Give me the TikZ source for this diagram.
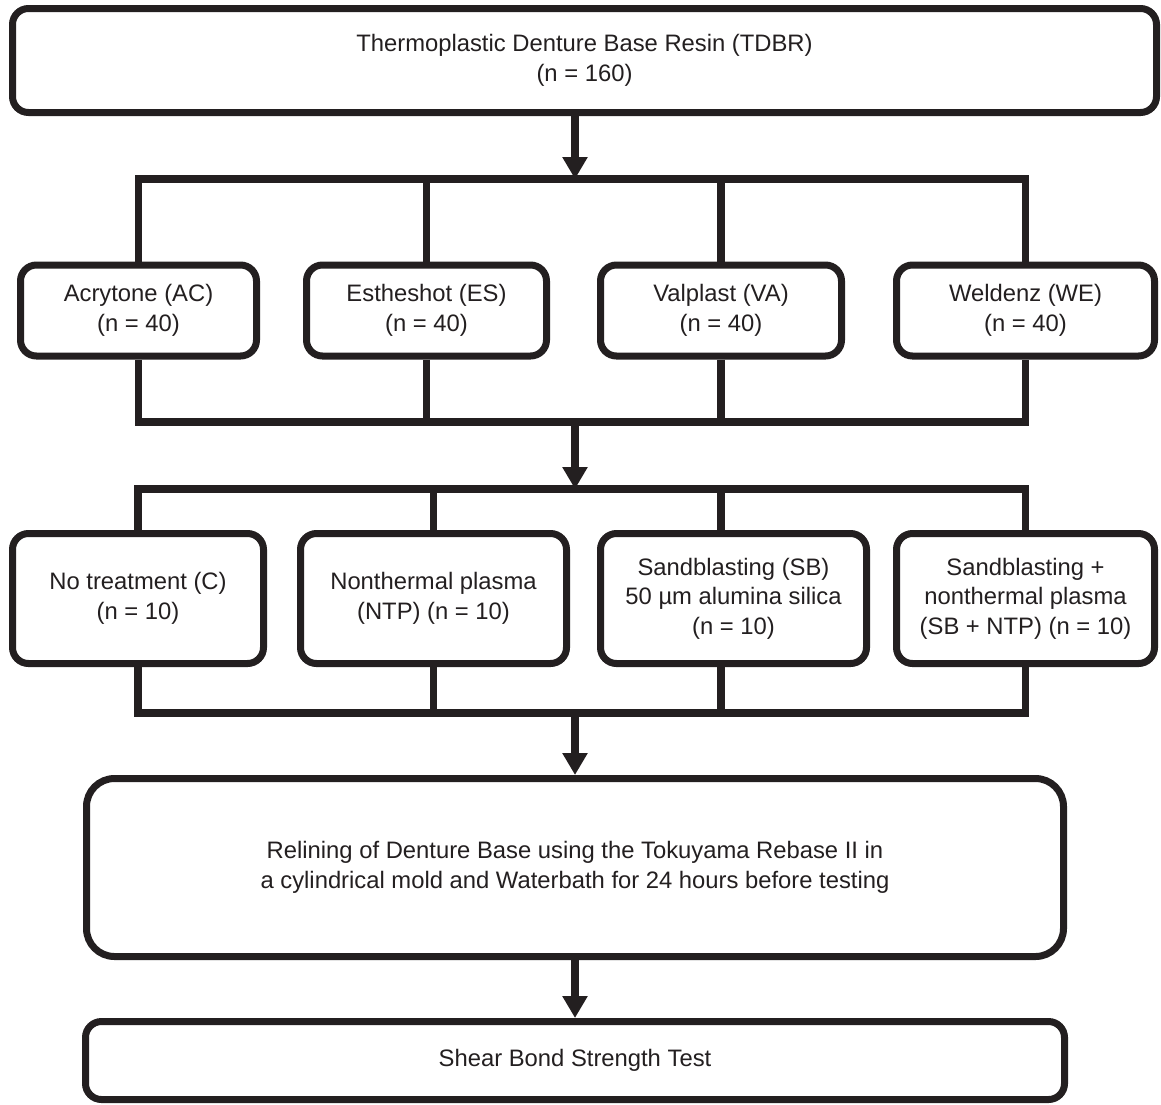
\documentclass[tikz,border=0pt]{standalone}
\usepackage{fontspec}
\setmainfont{Liberation Sans}
\usetikzlibrary{arrows.meta}
\definecolor{ink}{RGB}{35,31,32}

\begin{document}
\begin{tikzpicture}[x=1pt,y=-1pt,
  box/.style={draw=ink,text=ink,line width=7pt,rounded corners=16pt,fill=white,
    align=center,inner sep=0pt,font=\fontsize{23.8}{29.5}\selectfont},
  link/.style={draw=ink,line width=7.5pt},
  flow/.style={link,line width=8pt,-{Triangle[width=24pt,length=22pt]}}]
\useasboundingbox (0,0) rectangle (1161,1104);

% TDBR
\node[box,minimum width=1144pt,minimum height=104pt] (tdbr) at (584.5,60.5)
  {Thermoplastic Denture Base Resin (TDBR)\\(n = 160)};

% Resins
\node[box,minimum width=236pt,minimum height=91pt] (ac) at (138.5,310.5) {Acrytone (AC)\\(n = 40)};
\node[box,minimum width=240pt,minimum height=91pt] (es) at (426.5,310.5) {Estheshot (ES)\\(n = 40)};
\node[box,minimum width=241pt,minimum height=91pt] (va) at (721,310.5) {Valplast (VA)\\(n = 40)};
\node[box,minimum width=258pt,minimum height=91pt] (we) at (1025.5,310.5) {Weldenz (WE)\\(n = 40)};

% Surface treatments
\node[box,minimum width=251pt,minimum height=130pt] (c) at (138,598.5) {No treatment (C)\\(n = 10)};
\node[box,minimum width=266pt,minimum height=130pt] (ntp) at (433.5,598.5) {Nonthermal plasma\\(NTP) (n = 10)};
\node[box,minimum width=266pt,minimum height=130pt] (sb) at (733.5,598.5) {Sandblasting (SB)\\50 µm alumina silica\\(n = 10)};
\node[box,minimum width=258pt,minimum height=130pt] (sbntp) at (1025.5,598.5) {Sandblasting +\\nonthermal plasma\\(SB + NTP) (n = 10)};

% Relining and test
\node[box,rounded corners=28pt,minimum width=977pt,minimum height=178pt] (reline) at (575,867.5)
  {Relining of Denture Base using the Tokuyama Rebase II in\\a cylindrical mold and Waterbath for 24 hours before testing};
\node[box,minimum width=979pt,minimum height=78pt] (shear) at (575,1060.5) {Shear Bond Strength Test};

% Buses
\coordinate (bus1) at (575,179);
\coordinate (bus2) at (575,422);
\coordinate (bus3) at (575,489);
\coordinate (bus4) at (575,713);

\draw[flow] (tdbr.south -| bus1) -- (bus1);
\draw[link] (ac.north) |- (bus1) -| (we.north);
\draw[link] (es.north) -- (es.north |- bus1);
\draw[link] (va.north) -- (va.north |- bus1);

\draw[link] (ac.south) |- (bus2) -| (we.south);
\draw[link] (es.south) -- (es.south |- bus2);
\draw[link] (va.south) -- (va.south |- bus2);
\draw[flow] (bus2) -- (bus3);

\draw[link] (c.north) |- (bus3) -| (sbntp.north);
\draw[link] (ntp.north) -- (ntp.north |- bus3);
\draw[link] (sb.north -| va.south) -- (bus3 -| va.south);

\draw[link] (c.south) |- (bus4) -| (sbntp.south);
\draw[link] (ntp.south) -- (ntp.south |- bus4);
\draw[link] (sb.south -| va.south) -- (bus4 -| va.south);
\draw[flow] (bus4) -- (reline.north);

\draw[flow] (reline.south) -- (shear.north);
\end{tikzpicture}
\end{document}
